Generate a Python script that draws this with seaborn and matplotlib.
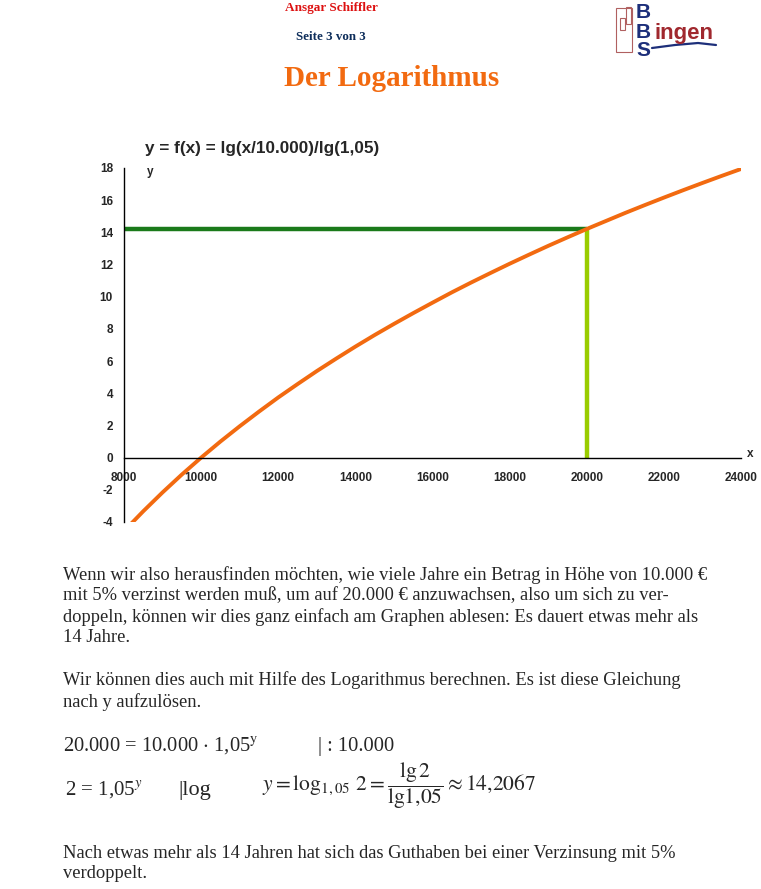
# encoding: utf-8
import matplotlib
matplotlib.use("Agg")
import matplotlib.pyplot as plt
import seaborn as sns
import pandas as pd
from matplotlib.patches import Rectangle

# Values
x_values = [8200, 8500, 9000, 9500, 10000, 10500, 11000, 11500, 12000, 12500,
            13000, 13500, 14000, 14500, 15000, 15500, 16000, 16500, 17000,
            17500, 18000, 18500, 19000, 19500, 20000, 20500, 21000, 21500,
            22000, 22500, 23000, 23500, 24000]
y_values = [-4.07, -3.33, -2.16, -1.05, 0.0, 1.0, 1.95, 2.86, 3.74, 4.57,
            5.38, 6.15, 6.90, 7.62, 8.31, 8.98, 9.63, 10.27, 10.88,
            11.47, 12.05, 12.61, 13.16, 13.69, 14.21, 14.71, 15.21, 15.69,
            16.16, 16.62, 17.07, 17.51, 17.94]
x_ticks = [8000, 10000, 12000, 14000, 16000, 18000, 20000, 22000, 24000]
y_ticks = [-4, -2, 0, 2, 4, 6, 8, 10, 12, 14, 16, 18]
target_x = 20000
target_y = 14.2067

df = pd.DataFrame({"x": x_values, "y": y_values})

sns.set_style("white")
plt.rcParams["font.family"] = ["Liberation Sans", "DejaVu Sans"]
plt.rcParams["axes.unicode_minus"] = False
plt.rcParams["mathtext.fontset"] = "stix"

fig = plt.figure(figsize=(7.61, 8.89), dpi=100)
ax = fig.add_axes([124 / 761, 1 - 522 / 889, 617 / 761, 354 / 889])

# Reading lines
ax.plot([8000, target_x], [target_y, target_y], color="#1a7a1a", lw=3.2, solid_capstyle="butt")
ax.plot([target_x, target_x], [0, target_y], color="#99cc00", lw=3.2, solid_capstyle="butt")

sns.lineplot(data=df, x="x", y="y", ax=ax, color="#f26a10", lw=2.8)

ax.set_xlim(8000, 24000)
ax.set_ylim(-4, 18)
ax.set_xticks(x_ticks)
ax.set_yticks(y_ticks)
ax.set_xlabel("")
ax.set_ylabel("")
for s in ["top", "right"]:
    ax.spines[s].set_visible(False)
ax.spines["bottom"].set_position(("data", 0))
for s in ["left", "bottom"]:
    ax.spines[s].set_color("black")
    ax.spines[s].set_linewidth(1.0)
ax.tick_params(axis="both", direction="out", length=4, width=1, color="black",
               labelsize=8.5, pad=4)
ax.tick_params(axis="x", pad=6)
for lab in ax.get_xticklabels() + ax.get_yticklabels():
    lab.set_fontweight("bold")
ax.text(0.037, 0.99, "y", transform=ax.transAxes, fontsize=8.5, fontweight="bold",
        ha="left", va="center")
ax.text(1.015, 0.193, "x", transform=ax.transAxes, fontsize=8.5, fontweight="bold",
        ha="center", va="center")
fig.text(262 / 761, 1 - 148 / 889, "y = f(x) = lg(x/10.000)/lg(1,05)", fontsize=12.3,
         fontweight="bold", ha="center", va="center")

serif = ["Liberation Serif", "DejaVu Serif"]
# Header
fig.text(331 / 761, 1 - 8 / 889, "Ansgar Schiffler", family=serif, fontsize=9.5,
         fontweight="bold", color="#dd1111", ha="center", va="center")
fig.text(331 / 761, 1 - 37 / 889, "Seite 3 von 3", family=serif, fontsize=9.4,
         fontweight="bold", color="#0d2d5a", ha="center", va="center")
fig.text(392 / 761, 1 - 79 / 889, "Der Logarithmus", family=serif, fontsize=21,
         fontweight="bold", color="#f26a10", ha="center", va="center")

# Logo
logo_blue = "#1d2f7a"
logo_red = "#a0282e"
fig.patches.append(Rectangle((616 / 761, 1 - 52 / 889), 16 / 761, 44 / 889,
                             transform=fig.transFigure, fill=False, ec="#b06060", lw=0.8))
fig.patches.append(Rectangle((620 / 761, 1 - 30 / 889), 5 / 761, 12 / 889,
                             transform=fig.transFigure, fill=False, ec="#b06060", lw=0.8))
fig.patches.append(Rectangle((626 / 761, 1 - 24 / 889), 5 / 761, 17 / 889,
                             transform=fig.transFigure, fill=False, ec="#b06060", lw=0.8))
for letter, yy in zip("BBS", [13, 32, 50]):
    fig.text(643 / 761, 1 - yy / 889, letter, fontsize=15, fontweight="bold",
             color=logo_blue, ha="center", va="center")
fig.text(655 / 761, 1 - 33 / 889, "ingen", fontsize=16, fontweight="bold",
         color=logo_red, ha="left", va="center")
fig.lines.append(plt.Line2D([652 / 761, 675 / 761, 698 / 761, 716 / 761],
                            [1 - 48 / 889, 1 - 45 / 889, 1 - 43 / 889, 1 - 45 / 889],
                            transform=fig.transFigure, color=logo_blue, lw=1.6))

# Body text
body = [
    (575, "Wenn wir also herausfinden möchten, wie viele Jahre ein Betrag in Höhe von 10.000 €"),
    (596, "mit 5% verzinst werden muß, um auf 20.000 € anzuwachsen, also um sich zu ver-"),
    (617, "doppeln, können wir dies ganz einfach am Graphen ablesen: Es dauert etwas mehr als"),
    (638, "14 Jahre."),
    (680, "Wir können dies auch mit Hilfe des Logarithmus berechnen. Es ist diese Gleichung"),
    (702, "nach y aufzulösen."),
    (853, "Nach etwas mehr als 14 Jahren hat sich das Guthaben bei einer Verzinsung mit 5%"),
    (874, "verdoppelt."),
]
for yy, line in body:
    fig.text(63 / 761, 1 - yy / 889, line, family=serif, fontsize=13.3,
             ha="left", va="center")

# Formulas
fig.text(63 / 761, 1 - 746 / 889, r"20.000 = 10.000 $\cdot$ 1,05$^{\mathrm{y}}$", family=serif,
         fontsize=14.8, ha="left", va="center")
fig.text(318 / 761, 1 - 746 / 889, "| : 10.000", family=serif, fontsize=14.8,
         ha="left", va="center")
fig.text(65 / 761, 1 - 790 / 889, r"2 = 1,05$^{y}$", family=serif, fontsize=15,
         ha="left", va="center")
fig.text(178 / 761, 1 - 790 / 889, "|log", family=serif, fontsize=16,
         ha="left", va="center")
fig.text(262 / 761, 1 - 786 / 889,
         r"$y = \mathrm{log}_{1,05}\ 2 = \dfrac{\mathrm{lg}\,2}{\mathrm{lg}1{,}05} \approx 14{,}2067$",
         fontsize=15.5, ha="left", va="center")

fig.savefig("out.png", dpi=100)
